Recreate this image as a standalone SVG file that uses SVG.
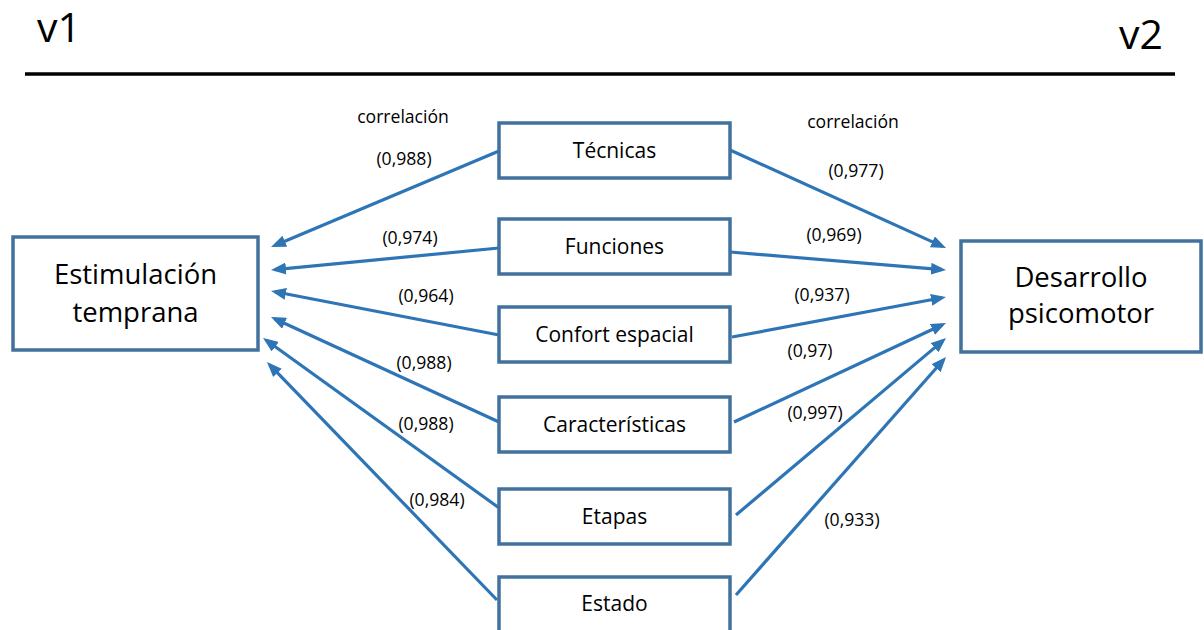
<svg xmlns="http://www.w3.org/2000/svg" width="1204" height="630" viewBox="0 0 1204 630">
<defs>
<style>
.box{fill:#ffffff;stroke:#41719C;stroke-width:3.5}
.bt{font-family:"Open Sans","Liberation Sans",sans-serif;font-size:21px;fill:#000;text-anchor:middle}
.big{font-family:"Open Sans","Liberation Sans",sans-serif;font-size:27.5px;fill:#000;text-anchor:middle}
.lb{font-family:"Open Sans","Liberation Sans",sans-serif;font-size:17.6px;fill:#000;text-anchor:middle}
.hd{font-family:"Open Sans","Liberation Sans",sans-serif;font-size:41px;fill:#000}
.cn{stroke:#2E75B6;stroke-width:3.2;fill:none;marker-end:url(#ah)}
</style>
<marker id="ah" markerUnits="userSpaceOnUse" markerWidth="15" markerHeight="12" viewBox="0 0 15 12" refX="11" refY="6" orient="auto">
<path d="M0,0 L15,6 L0,12 z" fill="#2E75B6"/>
</marker>
</defs>
<rect width="1204" height="630" fill="#ffffff"/>
<g id="header">
<text class="hd" x="37" y="42">v1</text>
<text class="hd" x="1119" y="49">v2</text>
<line x1="25" y1="74" x2="1175" y2="74" stroke="#000" stroke-width="3.5"/>
</g>
<g id="connectors">
<line class="cn" x1="499" y1="151" x2="274.7" y2="245.5"/>
<line class="cn" x1="499" y1="248" x2="275" y2="269.6"/>
<line class="cn" x1="499" y1="335" x2="275" y2="291.8"/>
<line class="cn" x1="499" y1="422" x2="274.6" y2="318.7"/>
<line class="cn" x1="502" y1="510" x2="266.3" y2="340.3"/>
<line class="cn" x1="497" y1="600" x2="269.8" y2="364.9"/>
<line class="cn" x1="730" y1="150" x2="942.4" y2="246.4"/>
<line class="cn" x1="730" y1="252" x2="942" y2="269.7"/>
<line class="cn" x1="732" y1="337" x2="942" y2="297.8"/>
<line class="cn" x1="734" y1="422" x2="942.4" y2="324.7"/>
<line class="cn" x1="736" y1="515" x2="943" y2="340.6"/>
<line class="cn" x1="736" y1="595" x2="943.4" y2="360"/>
</g>
<g id="labels">
<text class="lb" x="403" y="123">correlación</text>
<text class="lb" x="404" y="165">(0,988)</text>
<text class="lb" x="410" y="244">(0,974)</text>
<text class="lb" x="426" y="302">(0,964)</text>
<text class="lb" x="424" y="369">(0,988)</text>
<text class="lb" x="426" y="430">(0,988)</text>
<text class="lb" x="437" y="506">(0,984)</text>
<text class="lb" x="853" y="128">correlación</text>
<text class="lb" x="856" y="177">(0,977)</text>
<text class="lb" x="834" y="241">(0,969)</text>
<text class="lb" x="822" y="301">(0,937)</text>
<text class="lb" x="810" y="357">(0,97)</text>
<text class="lb" x="815" y="419">(0,997)</text>
<text class="lb" x="852" y="526">(0,933)</text>
</g>
<g id="estimulacion">
<rect class="box" x="13" y="237" width="245" height="113"/>
<text class="big" x="135.5" y="284">Estimulación</text>
<text class="big" x="135.5" y="322">temprana</text>
</g>
<g id="desarrollo">
<rect class="box" x="961" y="241" width="240" height="111"/>
<text class="big" x="1081" y="287">Desarrollo</text>
<text class="big" x="1081" y="323">psicomotor</text>
</g>
<g id="tecnicas">
<rect class="box" x="499" y="123" width="231" height="55"/>
<text class="bt" x="614.5" y="158">Técnicas</text>
</g>
<g id="funciones">
<rect class="box" x="499" y="219" width="231" height="55"/>
<text class="bt" x="614.5" y="254">Funciones</text>
</g>
<g id="confort">
<rect class="box" x="499" y="307" width="231" height="55"/>
<text class="bt" x="614.5" y="342">Confort espacial</text>
</g>
<g id="caracteristicas">
<rect class="box" x="499" y="397" width="231" height="55"/>
<text class="bt" x="614.5" y="432">Características</text>
</g>
<g id="etapas">
<rect class="box" x="499" y="489" width="231" height="55"/>
<text class="bt" x="614.5" y="524">Etapas</text>
</g>
<g id="estado">
<rect class="box" x="499" y="577" width="231" height="57"/>
<text class="bt" x="614.5" y="611">Estado</text>
</g>
</svg>
